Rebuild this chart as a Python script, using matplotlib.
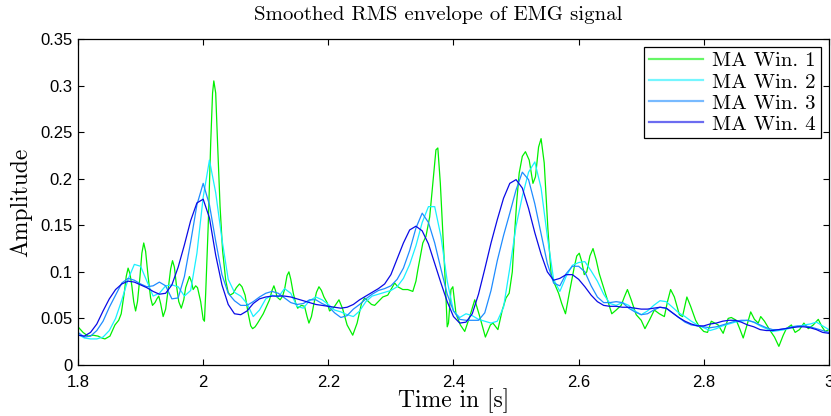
import numpy as np
import matplotlib
matplotlib.use("Agg")
import matplotlib.pyplot as plt
from matplotlib.ticker import FuncFormatter

# sample times of the smoothed envelopes (10 ms grid)
t_grid = np.round(np.arange(1.80, 3.0001, 0.01), 2)

# moving-average window 1 (shortest window, irregular samples)
t_win1 = [
    1.800, 1.808, 1.816, 1.824, 1.832, 1.838, 1.843, 1.851, 1.859, 1.865,
    1.869, 1.874, 1.877, 1.880, 1.883, 1.886, 1.889, 1.892, 1.895, 1.899,
    1.902, 1.905, 1.908, 1.912, 1.916, 1.919, 1.923, 1.926, 1.929, 1.932,
    1.936, 1.940, 1.944, 1.948, 1.951, 1.954, 1.957, 1.961, 1.965, 1.969,
    1.972, 1.978, 1.981, 1.984, 1.988, 1.991, 1.996, 2.000, 2.002, 2.004,
    2.008, 2.012, 2.015, 2.017, 2.020, 2.023, 2.027, 2.031, 2.036, 2.040,
    2.043, 2.048, 2.053, 2.058, 2.062, 2.067, 2.072, 2.076, 2.079, 2.083,
    2.087, 2.096, 2.106, 2.110, 2.113, 2.116, 2.118, 2.123, 2.127, 2.130,
    2.134, 2.137, 2.140, 2.144, 2.148, 2.151, 2.157, 2.162, 2.166, 2.169,
    2.173, 2.177, 2.181, 2.185, 2.189, 2.193, 2.198, 2.202, 2.209, 2.217,
    2.223, 2.230, 2.239, 2.246, 2.253, 2.258, 2.269, 2.274, 2.287, 2.295,
    2.306, 2.311, 2.319, 2.327, 2.335, 2.340, 2.343, 2.351, 2.356, 2.362,
    2.367, 2.372, 2.375, 2.379, 2.383, 2.387, 2.390, 2.392, 2.396, 2.399,
    2.404, 2.411, 2.418, 2.426, 2.434, 2.442, 2.451, 2.459, 2.463, 2.471,
    2.478, 2.484, 2.489, 2.494, 2.497, 2.501, 2.505, 2.510, 2.515, 2.521,
    2.527, 2.531, 2.536, 2.540, 2.545, 2.551, 2.556, 2.561, 2.568, 2.573,
    2.579, 2.585, 2.593, 2.597, 2.601, 2.605, 2.609, 2.613, 2.618, 2.623,
    2.628, 2.633, 2.641, 2.646, 2.653, 2.660, 2.668, 2.673, 2.678, 2.684,
    2.692, 2.700, 2.706, 2.713, 2.721, 2.729, 2.737, 2.742, 2.747, 2.753,
    2.761, 2.766, 2.773, 2.779, 2.787, 2.793, 2.800, 2.806, 2.812, 2.823,
    2.831, 2.839, 2.844, 2.852, 2.858, 2.863, 2.870, 2.875, 2.881, 2.887,
    2.891, 2.897, 2.905, 2.913, 2.920, 2.927, 2.932, 2.940, 2.946, 2.953,
    2.960, 2.967, 2.975, 2.983, 2.989, 2.994, 3.000,
]
amp_win1 = [
    0.041, 0.035, 0.031, 0.032, 0.031, 0.029, 0.028, 0.031, 0.043, 0.048,
    0.055, 0.078, 0.095, 0.104, 0.098, 0.085, 0.068, 0.058, 0.068, 0.095,
    0.120, 0.131, 0.122, 0.095, 0.072, 0.064, 0.067, 0.071, 0.074, 0.066,
    0.052, 0.060, 0.081, 0.103, 0.112, 0.105, 0.087, 0.068, 0.061, 0.070,
    0.083, 0.095, 0.090, 0.081, 0.085, 0.083, 0.068, 0.049, 0.047, 0.077,
    0.149, 0.238, 0.292, 0.305, 0.292, 0.238, 0.170, 0.123, 0.091, 0.078,
    0.075, 0.077, 0.083, 0.087, 0.084, 0.075, 0.055, 0.042, 0.039, 0.041,
    0.045, 0.055, 0.070, 0.080, 0.085, 0.079, 0.073, 0.070, 0.074, 0.081,
    0.096, 0.100, 0.092, 0.077, 0.066, 0.061, 0.064, 0.063, 0.052, 0.045,
    0.052, 0.066, 0.078, 0.084, 0.080, 0.073, 0.067, 0.058, 0.062, 0.070,
    0.060, 0.043, 0.032, 0.045, 0.066, 0.072, 0.065, 0.064, 0.073, 0.075,
    0.088, 0.084, 0.081, 0.081, 0.079, 0.090, 0.102, 0.131, 0.138, 0.159,
    0.195, 0.231, 0.233, 0.195, 0.141, 0.088, 0.041, 0.045, 0.081, 0.084,
    0.055, 0.043, 0.036, 0.052, 0.070, 0.052, 0.030, 0.043, 0.045, 0.038,
    0.059, 0.072, 0.077, 0.100, 0.134, 0.175, 0.206, 0.224, 0.229, 0.220,
    0.195, 0.202, 0.234, 0.243, 0.217, 0.145, 0.098, 0.088, 0.077, 0.066,
    0.055, 0.077, 0.105, 0.117, 0.120, 0.111, 0.097, 0.100, 0.117, 0.125,
    0.113, 0.098, 0.081, 0.070, 0.055, 0.059, 0.064, 0.073, 0.081, 0.070,
    0.054, 0.048, 0.039, 0.048, 0.059, 0.055, 0.052, 0.068, 0.081, 0.073,
    0.054, 0.052, 0.073, 0.063, 0.048, 0.041, 0.036, 0.035, 0.047, 0.043,
    0.034, 0.050, 0.051, 0.048, 0.038, 0.029, 0.045, 0.057, 0.049, 0.045,
    0.052, 0.047, 0.038, 0.030, 0.020, 0.032, 0.039, 0.043, 0.035, 0.038,
    0.045, 0.039, 0.043, 0.049, 0.041, 0.036, 0.038,
]

# moving-average window 2
amp_win2 = [
    0.033, 0.029, 0.028, 0.028, 0.030, 0.037, 0.050, 0.070, 0.092, 0.108,
    0.106, 0.090, 0.074, 0.077, 0.085, 0.086, 0.084, 0.074, 0.080, 0.120,
    0.180, 0.220, 0.185, 0.135, 0.092, 0.078, 0.074, 0.066, 0.052, 0.059,
    0.071, 0.075, 0.073, 0.082, 0.077, 0.063, 0.061, 0.069, 0.073, 0.070,
    0.065, 0.059, 0.057, 0.054, 0.052, 0.058, 0.068, 0.074, 0.076, 0.078,
    0.080, 0.084, 0.093, 0.108, 0.128, 0.153, 0.170, 0.170, 0.138, 0.090,
    0.058, 0.051, 0.055, 0.053, 0.049, 0.047, 0.045, 0.047, 0.062, 0.104,
    0.149, 0.181, 0.207, 0.218, 0.190, 0.138, 0.092, 0.079, 0.095, 0.107,
    0.110, 0.111, 0.101, 0.090, 0.076, 0.066, 0.064, 0.067, 0.064, 0.058,
    0.054, 0.058, 0.064, 0.069, 0.068, 0.062, 0.056, 0.052, 0.047, 0.043,
    0.040, 0.037, 0.039, 0.042, 0.044, 0.046, 0.047, 0.048, 0.046, 0.042,
    0.039, 0.036, 0.037, 0.038, 0.040, 0.041, 0.043, 0.044, 0.046, 0.042,
    0.038,
]

# moving-average window 3
amp_win3 = [
    0.035, 0.030, 0.031, 0.037, 0.047, 0.062, 0.075, 0.088, 0.093, 0.091,
    0.087, 0.084, 0.085, 0.089, 0.085, 0.071, 0.072, 0.095, 0.132, 0.172,
    0.195, 0.172, 0.133, 0.097, 0.077, 0.069, 0.064, 0.064, 0.068, 0.073,
    0.077, 0.079, 0.077, 0.072, 0.067, 0.065, 0.066, 0.070, 0.070, 0.066,
    0.063, 0.056, 0.051, 0.053, 0.060, 0.065, 0.071, 0.076, 0.080, 0.082,
    0.085, 0.092, 0.104, 0.123, 0.147, 0.163, 0.153, 0.131, 0.103, 0.076,
    0.058, 0.049, 0.048, 0.048, 0.048, 0.056, 0.080, 0.112, 0.139, 0.163,
    0.188, 0.207, 0.199, 0.173, 0.141, 0.109, 0.088, 0.085, 0.098, 0.106,
    0.106, 0.100, 0.085, 0.073, 0.067, 0.067, 0.068, 0.067, 0.061, 0.057,
    0.054, 0.055, 0.059, 0.062, 0.061, 0.056, 0.051, 0.046, 0.043, 0.042,
    0.041, 0.040, 0.041, 0.043, 0.045, 0.047, 0.048, 0.048, 0.046, 0.043,
    0.040, 0.038, 0.038, 0.039, 0.041, 0.042, 0.042, 0.041, 0.039, 0.037,
    0.035,
]

# moving-average window 4 (longest window)
amp_win4 = [
    0.032, 0.031, 0.035, 0.044, 0.058, 0.071, 0.081, 0.087, 0.090, 0.089,
    0.086, 0.083, 0.079, 0.076, 0.077, 0.086, 0.105, 0.129, 0.155, 0.174,
    0.178, 0.158, 0.118, 0.086, 0.065, 0.055, 0.054, 0.058, 0.066, 0.071,
    0.073, 0.074, 0.074, 0.074, 0.073, 0.071, 0.069, 0.067, 0.065, 0.064,
    0.063, 0.062, 0.061, 0.062, 0.065, 0.070, 0.074, 0.078, 0.082, 0.087,
    0.097, 0.114, 0.131, 0.145, 0.149, 0.144, 0.130, 0.109, 0.088, 0.068,
    0.052, 0.045, 0.046, 0.055, 0.076, 0.103, 0.131, 0.156, 0.179, 0.195,
    0.199, 0.190, 0.168, 0.142, 0.119, 0.100, 0.091, 0.093, 0.097, 0.097,
    0.092, 0.084, 0.075, 0.068, 0.064, 0.063, 0.063, 0.062, 0.062, 0.061,
    0.060, 0.060, 0.061, 0.062, 0.061, 0.056, 0.051, 0.047, 0.044, 0.042,
    0.042, 0.044, 0.045, 0.047, 0.048, 0.048, 0.046, 0.043, 0.041, 0.038,
    0.037, 0.037, 0.038, 0.039, 0.040, 0.041, 0.041, 0.040, 0.038, 0.035,
    0.034,
]

labels = ["MA Win. 1", "MA Win. 2", "MA Win. 3", "MA Win. 4"]
colors = ["#00f000", "#19f0ff", "#1e8cff", "#0a0ae6"]

x_ticks = [1.8, 2.0, 2.2, 2.4, 2.6, 2.8, 3.0]
y_ticks = [0, 0.05, 0.1, 0.15, 0.2, 0.25, 0.3, 0.35]

serif = "cmr10"
plt.rcParams["font.family"] = ["Liberation Sans", "DejaVu Sans"]
plt.rcParams["axes.unicode_minus"] = False

fig = plt.figure(figsize=(8.31, 4.16), dpi=100)
ax = fig.add_axes([0.0939, 0.1226, 0.9036, 0.7837])

ax.plot(t_win1, amp_win1, color=colors[0], lw=0.9, label=labels[0])
ax.plot(t_grid, amp_win2, color=colors[1], lw=0.9, label=labels[1])
ax.plot(t_grid, amp_win3, color=colors[2], lw=0.9, label=labels[2])
ax.plot(t_grid, amp_win4, color=colors[3], lw=0.9, label=labels[3])

ax.set_xlim(1.8, 3.0)
ax.set_ylim(0, 0.35)
ax.set_xticks(x_ticks)
ax.set_yticks(y_ticks)
ax.xaxis.set_major_formatter(FuncFormatter(lambda v, p: f"{v:g}"))
ax.yaxis.set_major_formatter(FuncFormatter(lambda v, p: f"{v:g}"))
ax.tick_params(direction="in", top=True, right=True, length=4.5, width=0.8,
               labelsize=12, colors="black")
ax.tick_params(axis="x", pad=7)
ax.tick_params(axis="y", pad=4)
for sp in ax.spines.values():
    sp.set_linewidth(0.9)

ax.set_title("Smoothed RMS envelope of EMG signal", fontfamily=serif,
             fontsize=15, pad=14, x=0.48)
ax.set_xlabel("Time in [s]", fontfamily=serif, fontsize=17, labelpad=-1)
ax.set_ylabel("Amplitude", fontfamily=serif, fontsize=17, labelpad=6)

leg = ax.legend(loc="upper right", prop={"family": serif, "size": 15},
                frameon=True, fancybox=False, edgecolor="black",
                framealpha=1, borderaxespad=0.4, handlelength=2.6,
                handletextpad=0.45, labelspacing=0.12, borderpad=0.22)
leg.get_frame().set_linewidth(0.9)
for line in leg.get_lines():
    line.set_linewidth(1.6)
    line.set_alpha(0.6)

fig.savefig("out.png", dpi=100)
